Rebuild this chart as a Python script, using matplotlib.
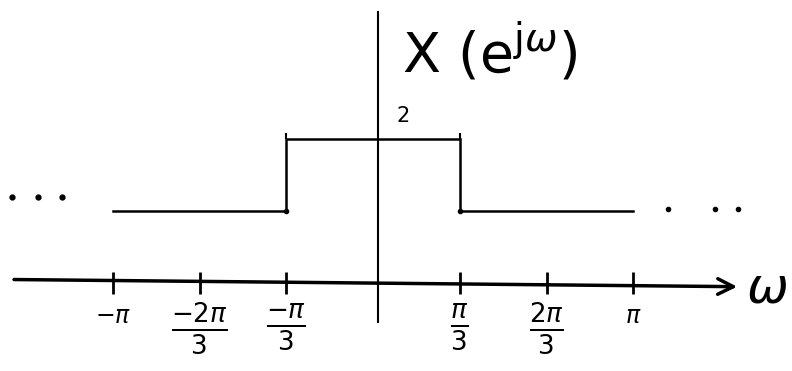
import numpy as np
import matplotlib
matplotlib.use("Agg")
import matplotlib.pyplot as plt

# spectrum over one period: piecewise constant levels between the band edges
edges = [-np.pi, -np.pi / 3, np.pi / 3, np.pi]
levels = [1, 2, 1]

tick_pos = [-np.pi, -2 * np.pi / 3, -np.pi / 3, np.pi / 3, 2 * np.pi / 3, np.pi]
tick_labels = [r'$-\pi$', r'$\frac{-2\pi}{3}$', r'$\frac{-\pi}{3}$',
               r'$\frac{\pi}{3}$', r'$\frac{2\pi}{3}$', r'$\pi$']

# continuation dots (periodic repetition), in radians
dots_left_x = [-4.36, -4.04, -3.76]
dots_left_y = [1.19, 1.19, 1.19]
dots_right_x = [3.56, 4.13, 4.41]
dots_right_y = [1.03, 1.03, 1.03]

u = np.pi / 3
fig = plt.figure(figsize=(7.92, 3.71), dpi=100)
ax = fig.add_axes([0, 0, 1, 1])
ax.set_xlim(-4.30 * u, 4.83 * u)
ax.set_ylim(-1.22, 3.93)
ax.axis('off')

# build step outline from edges/levels
xs, ys = [], []
for i, lv in enumerate(levels):
    xs += [edges[i], edges[i + 1]]
    ys += [lv, lv]
ax.plot(xs, ys, color='black', lw=1.8, solid_joinstyle='miter')
ax.plot([edges[1], edges[2]], [levels[0], levels[0]], 'o', color='black', ms=3)
ax.vlines([edges[1], edges[2]], levels[1], levels[1] + 0.08, color='black', lw=1.5)

# axes
ax.annotate('', xy=(4.23 * u, -0.05), xytext=(-4.17 * u, 0.05),
            arrowprops=dict(arrowstyle='->', color='black', lw=2.5,
                            mutation_scale=28))
ax.plot([0.06, 0.06], [-0.54, 3.77], color='black', lw=1.5)

# ticks and labels
ax.vlines(tick_pos, -0.15, 0.15, color='black', lw=2)
for p, lab in zip(tick_pos, tick_labels):
    if 'frac' in lab:
        ax.text(p, -0.62, lab, ha='center', va='center', fontsize=27)
    else:
        ax.text(p, -0.45, lab, ha='center', va='center', fontsize=17)

ax.plot(dots_left_x, dots_left_y, 'o', color='black', ms=3.5)
ax.plot(dots_right_x, dots_right_y, 'o', color='black', ms=3)

ax.text(0.36, 2.32, '2', ha='center', va='center', fontsize=15)
ax.text(0.35, 3.2, r'X (e$^{\mathrm{j}\omega}$)', ha='left', va='center',
        fontsize=40)
ax.text(4.30 * u, -0.08, r'$\omega$', ha='left', va='center', fontsize=36)

fig.savefig('out.png', dpi=100)
